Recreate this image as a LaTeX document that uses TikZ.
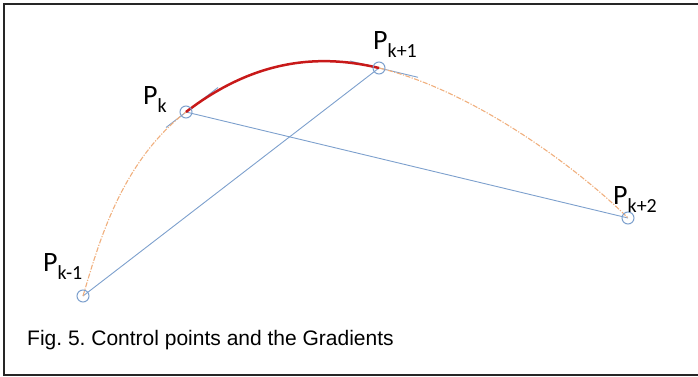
\documentclass[tikz,border=0pt]{standalone}
\usepackage{fontspec}
\setmainfont{Carlito}
\newfontfamily\capfont{Liberation Sans}
\definecolor{lblue}{RGB}{125,160,205}
\definecolor{lorange}{RGB}{240,175,125}
\definecolor{cred}{RGB}{200,25,25}
\newcommand{\subtxt}[1]{\raisebox{-8pt}{\fontsize{20}{20}\selectfont #1}}
\frenchspacing
\begin{document}
\begin{tikzpicture}[x=1pt,y=-1pt,
  frame/.style={draw=black!85,line width=2pt},
  guide/.style={draw=lblue,line width=0.9pt},
  ctrl/.style={circle,draw=lblue,line width=1pt,minimum size=12pt,inner sep=0pt},
  dashdot/.style={draw=lorange,line width=1.1pt,dash pattern=on 5pt off 1.5pt on 1.2pt off 1.5pt},
  seg/.style={draw=cred,line width=2.5pt},
  lbl/.style={anchor=base west,inner sep=0pt,font=\fontsize{28}{28}\selectfont},
  caption/.style={anchor=base west,inner sep=0pt,font=\capfont\fontsize{21}{21}\selectfont}]
\useasboundingbox (0,0) rectangle (698,377);
\begin{scope}
\clip (0,0) rectangle (698,377);
\draw[frame] (4,4) rectangle (702,375);
\end{scope}
% points
\coordinate (pm) at (83,296);
\coordinate (p0) at (186,112);
\coordinate (p1) at (379,68);
\coordinate (p2) at (628,218);
% guide lines
\draw[guide] (pm) -- (p1);
\draw[guide] (p0) -- (p2);
\coordinate (t0a) at (166,127.5);
\coordinate (t0b) at (218,87.5);
\draw[guide] (t0a) -- (t0b);
\coordinate (t1a) at (350,61);
\coordinate (t1b) at (418,77.3);
\draw[guide] (t1a) -- (t1b);
% curves
\draw[dashdot] (pm) .. controls (98,246) and (120,163) .. (p0);
\draw[dashdot] (p1) .. controls (477,91.6) and (583,173) .. (p2);
\draw[seg] (p0) .. controls (259.4,55.5) and (325.6,55.2) .. (p1);
% circles
\node[ctrl] (cm) at (pm) {};
\node[ctrl] (c0) at (p0) {};
\node[ctrl] (c1) at (p1) {};
\node[ctrl] (c2) at (p2) {};
% labels
\node[lbl] (lm) at (43,271) {P\subtxt{k-1}};
\node[lbl] (l0) at (143,105) {P\subtxt{k}};
\node[lbl] (l1) at (373,50) {P\subtxt{k+1}};
\node[lbl] (l2) at (613,204) {P\subtxt{k+2}};
\node[caption] (cap) at (27,345) {Fig. 5. Control points and the Gradients};
\end{tikzpicture}
\end{document}
